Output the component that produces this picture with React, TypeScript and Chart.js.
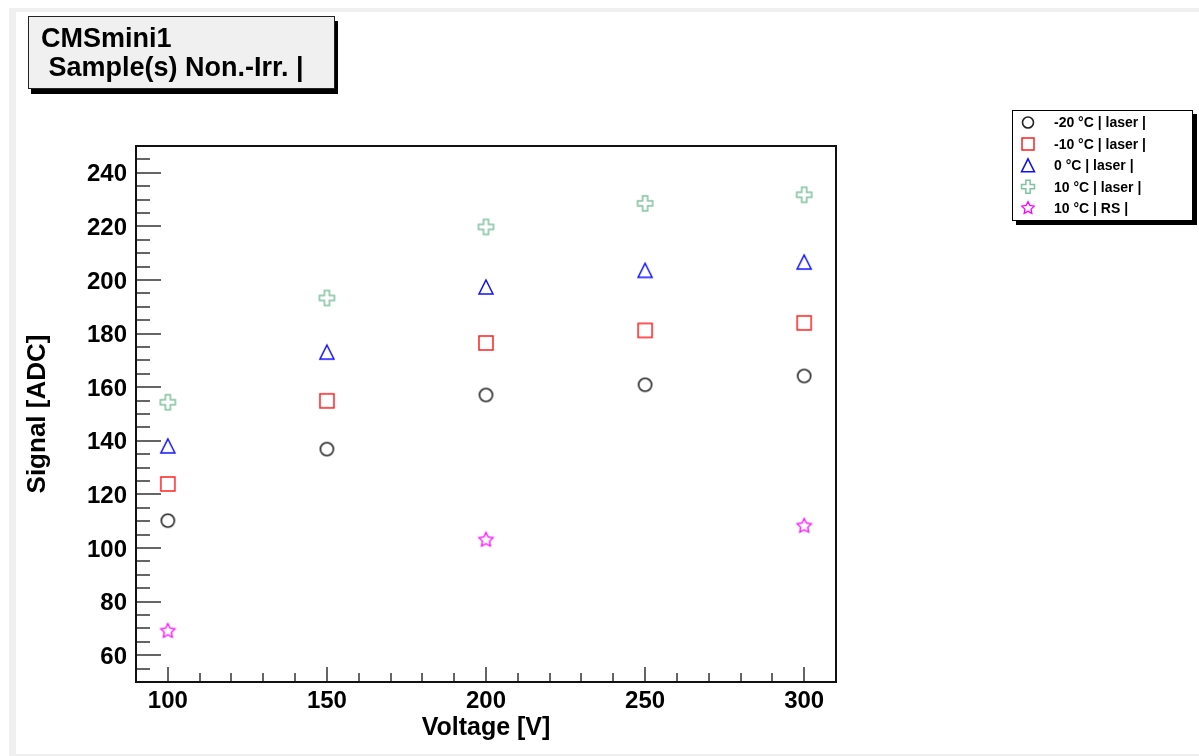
import React, { useEffect, useRef } from 'react';
import { Chart, registerables } from 'chart.js';

Chart.register(...registerables);

// ---------- data ----------
const voltages = [100, 150, 200, 250, 300];
const signalM20Laser = [110.2, 136.9, 157.1, 160.9, 164.2];
const signalM10Laser = [123.9, 154.9, 176.5, 181.2, 184.0];
const signal0Laser = [138.1, 173.1, 197.4, 203.6, 206.7];
const signal10Laser = [154.4, 193.3, 219.8, 228.6, 231.8];
const rsVoltages = [100, 200, 300];
const signal10RS = [69.0, 103.0, 108.2];

const seriesLabels = ['-20 °C | laser |', '-10 °C | laser |', '0 °C | laser |', '10 °C | laser |', '10 °C | RS |'];
const xTickValues = [100, 150, 200, 250, 300];
const yTickValues = [60, 80, 100, 120, 140, 160, 180, 200, 220, 240];
const titleLines = ['CMSmini1', ' Sample(s) Non.-Irr. |'];
const xAxisTitle = 'Voltage [V]';
const yAxisTitle = 'Signal [ADC]';

// ---------- styles ----------
const FONT = "'Liberation Sans', Arial, Helvetica, sans-serif";
type Kind = 'circle' | 'square' | 'triangle' | 'cross' | 'star';
const seriesKinds: Kind[] = ['circle', 'square', 'triangle', 'cross', 'star'];
const seriesColors = ['#222222', '#ff2020', '#1010ff', '#7fc29f', '#ff00ff'];
const seriesLineWidths = [1.6, 1.5, 1.5, 1.5, 1.3];

function drawMarker(ctx: CanvasRenderingContext2D, kind: Kind, cx: number, cy: number, s: number, color: string, lw: number) {
  const h = s / 2;
  ctx.save();
  ctx.strokeStyle = color;
  ctx.lineWidth = lw;
  ctx.lineJoin = 'miter';
  ctx.beginPath();
  if (kind === 'circle') {
    ctx.arc(cx, cy, h, 0, Math.PI * 2);
  } else if (kind === 'square') {
    ctx.rect(cx - h, cy - h, s, s);
  } else if (kind === 'triangle') {
    ctx.moveTo(cx, cy - h);
    ctx.lineTo(cx + h, cy + h);
    ctx.lineTo(cx - h, cy + h);
    ctx.closePath();
  } else if (kind === 'cross') {
    const a = s / 6;
    const pts = [[-a, -h], [a, -h], [a, -a], [h, -a], [h, a], [a, a], [a, h], [-a, h], [-a, a], [-h, a], [-h, -a], [-a, -a]];
    pts.forEach(([px, py], i) => (i ? ctx.lineTo(cx + px, cy + py) : ctx.moveTo(cx + px, cy + py)));
    ctx.closePath();
  } else {
    const inner = h * 0.5;
    for (let i = 0; i < 10; i++) {
      const r = i % 2 === 0 ? h : inner;
      const ang = -Math.PI / 2 + (i * Math.PI) / 5;
      const px = cx + r * Math.cos(ang);
      const py = cy + r * Math.sin(ang);
      if (i === 0) ctx.moveTo(px, py);
      else ctx.lineTo(px, py);
    }
    ctx.closePath();
  }
  ctx.stroke();
  ctx.restore();
}

function markerImage(kind: Kind, s: number, color: string, lw: number): HTMLCanvasElement {
  const size = Math.ceil(s + 6);
  const c = document.createElement('canvas');
  c.width = size;
  c.height = size;
  const ctx = c.getContext('2d')!;
  drawMarker(ctx, kind, size / 2, size / 2, s, color, lw);
  return c;
}

const plotMarkerSizes = [13, 14, 14, 15, 15];
const legendMarkerSizes = [11, 12, 13, 13, 13];

const decorPlugin = {
  id: 'rootDecor',
  beforeDraw(chart: any) {
    const ctx: CanvasRenderingContext2D = chart.ctx;
    ctx.save();
    ctx.fillStyle = '#ffffff';
    ctx.fillRect(0, 0, chart.width, chart.height);
    ctx.fillStyle = '#f0f0f0';
    ctx.fillRect(9, 8, 7, chart.height - 8);
    ctx.fillRect(9, 8, chart.width - 9, 4);
    ctx.fillRect(9, 754, chart.width - 9, 2);
    ctx.restore();
  },
  beforeDatasetsDraw(chart: any) {
    const ctx: CanvasRenderingContext2D = chart.ctx;
    const { left, right, top, bottom } = chart.chartArea;
    const xs = chart.scales.x;
    const ys = chart.scales.y;
    ctx.save();
    ctx.strokeStyle = '#333333';
    ctx.lineWidth = 1.5;
    ctx.beginPath();
    for (let v = ys.min + 5; v < ys.max; v += 5) {
      const y = Math.round(ys.getPixelForValue(v));
      const len = v % 20 === 0 ? 25 : 14;
      ctx.moveTo(left, y);
      ctx.lineTo(left + len, y);
    }
    for (let v = xs.min + 10; v < xs.max; v += 10) {
      const x = Math.round(xs.getPixelForValue(v));
      const len = v % 50 === 0 ? 15 : 9;
      ctx.moveTo(x, bottom);
      ctx.lineTo(x, bottom - len);
    }
    ctx.stroke();
    ctx.strokeStyle = '#111111';
    ctx.lineWidth = 2;
    ctx.strokeRect(left, top, right - left, bottom - top);
    ctx.restore();
  },
  afterDraw(chart: any) {
    const ctx: CanvasRenderingContext2D = chart.ctx;
    ctx.save();
    // title box
    const tb = { x: 28, y: 16, w: 307, h: 73 };
    ctx.fillStyle = '#000000';
    ctx.fillRect(tb.x + 3, tb.y + 5, tb.w, tb.h);
    ctx.fillStyle = '#f0f0f0';
    ctx.fillRect(tb.x, tb.y, tb.w, tb.h);
    ctx.strokeStyle = '#222222';
    ctx.lineWidth = 1;
    ctx.strokeRect(tb.x + 0.5, tb.y + 0.5, tb.w - 1, tb.h - 1);
    ctx.fillStyle = '#000000';
    ctx.font = `bold 27px ${FONT}`;
    ctx.textBaseline = 'alphabetic';
    ctx.textAlign = 'left';
    ctx.fillText(titleLines[0], 41, 47);
    ctx.fillText(titleLines[1], 41, 76);

    // legend box
    const lb = { x: 1012, y: 110, w: 181, h: 111 };
    ctx.fillStyle = '#000000';
    ctx.fillRect(lb.x + 4, lb.y + 4, lb.w, lb.h);
    ctx.fillStyle = '#ffffff';
    ctx.fillRect(lb.x, lb.y, lb.w, lb.h);
    ctx.strokeStyle = '#000000';
    ctx.lineWidth = 1;
    ctx.strokeRect(lb.x + 0.5, lb.y + 0.5, lb.w - 1, lb.h - 1);
    ctx.font = `bold 14px ${FONT}`;
    ctx.textBaseline = 'middle';
    chart.data.datasets.forEach((ds: any, i: number) => {
      const y = 122.5 + i * 21.4;
      drawMarker(ctx, seriesKinds[i], 1028, y, legendMarkerSizes[i], seriesColors[i], seriesLineWidths[i]);
      ctx.fillStyle = '#000000';
      ctx.fillText(ds.label, 1054, y + 1);
    });
    ctx.restore();
  },
};

export default function App() {
  const ref = useRef<HTMLCanvasElement>(null);

  useEffect(() => {
    if (!ref.current) return;
    const mk = (i: number, xs: number[], ys: number[]) => ({
      label: seriesLabels[i],
      data: xs.map((x, k) => ({ x, y: ys[k] })),
      pointStyle: markerImage(seriesKinds[i], plotMarkerSizes[i], seriesColors[i], seriesLineWidths[i]),
      borderColor: seriesColors[i],
      backgroundColor: 'transparent',
      pointRadius: 8,
      showLine: false,
    });
    const tickFont = { family: FONT, size: 24, weight: 'bold' as const };
    const titleFont = { family: FONT, size: 25, weight: 'bold' as const };
    const chart = new Chart(ref.current, {
      type: 'scatter',
      data: {
        datasets: [
          mk(0, voltages, signalM20Laser),
          mk(1, voltages, signalM10Laser),
          mk(2, voltages, signal0Laser),
          mk(3, voltages, signal10Laser),
          mk(4, rsVoltages, signal10RS),
        ],
      },
      options: {
        responsive: false,
        animation: false,
        devicePixelRatio: 1,
        events: [],
        layout: { padding: { left: 0, top: 146, right: 363, bottom: 0 } },
        plugins: { legend: { display: false }, tooltip: { enabled: false }, title: { display: false } },
        scales: {
          x: {
            type: 'linear',
            position: 'bottom',
            min: 90,
            max: 310,
            afterBuildTicks: (s: any) => {
              s.ticks = xTickValues.map((v) => ({ value: v }));
            },
            afterFit: (s: any) => {
              s.height = 74;
            },
            grid: { display: false, drawTicks: false },
            border: { display: false },
            ticks: {
              font: tickFont,
              color: '#000000',
              padding: 5,
              autoSkip: false,
              maxRotation: 0,
              callback: (v: any) => String(v),
            },
            title: { display: true, text: xAxisTitle, font: titleFont, color: '#000000', padding: { top: 0, bottom: 13 } },
          },
          y: {
            type: 'linear',
            position: 'left',
            min: 50,
            max: 250,
            afterBuildTicks: (s: any) => {
              s.ticks = yTickValues.map((v) => ({ value: v }));
            },
            afterFit: (s: any) => {
              s.width = 136;
            },
            grid: { display: false, drawTicks: false },
            border: { display: false },
            ticks: {
              font: tickFont,
              color: '#000000',
              padding: 9,
              labelOffset: 2,
              autoSkip: false,
              callback: (v: any) => String(v),
            },
            title: { display: true, text: yAxisTitle, font: { family: FONT, size: 26, weight: 'bold' as const }, color: '#000000', padding: { top: 22, bottom: 0 } },
          },
        },
      },
      plugins: [decorPlugin],
    });
    return () => chart.destroy();
  }, []);

  return (
    <div style={{ position: 'fixed', left: 0, top: 0, width: 1199, height: 756, background: '#ffffff' }}>
      <canvas ref={ref} width={1199} height={756} style={{ display: 'block', width: 1199, height: 756 }} />
    </div>
  );
}
